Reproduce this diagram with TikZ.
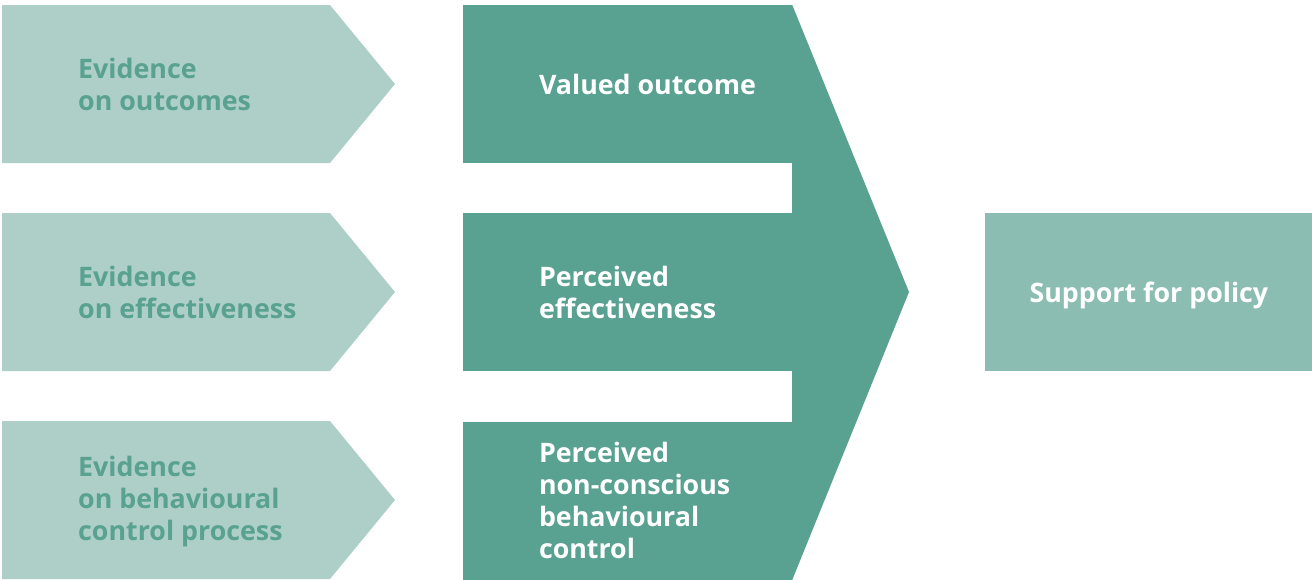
\documentclass[tikz,border=0pt]{standalone}
\usepackage{fontspec}
\setmainfont{Open Sans}
\usepackage{tikz}
\usetikzlibrary{positioning}
\definecolor{paleteal}{rgb}{0.68,0.81,0.78}
\definecolor{deepteal}{rgb}{0.35,0.63,0.57}
\definecolor{softteal}{rgb}{0.55,0.74,0.70}
\tikzset{
  texto/.style={
    anchor=west,
    align=left,
    inner sep=0pt,
    font=\fontsize{26.8}{32}\selectfont\bfseries
  },
  evidencia/.style={
    texto,
    text=deepteal
  },
  percibido/.style={
    texto,
    text=white
  },
  bloque/.style={
    fill=deepteal,
    minimum width=329pt,
    minimum height=158pt,
    inner sep=0pt
  },
  apoyo/.style={
    fill=softteal,
    text=white,
    minimum width=327pt,
    minimum height=158pt,
    inner sep=0pt,
    text depth=0pt,
    font=\fontsize{26.8}{32}\selectfont\bfseries
  }
}

\begin{document}
\begin{tikzpicture}[x=1pt,y=-1pt]
\useasboundingbox (0,0) rectangle (1312,579);
% evidence arrows on the left
\fill[paleteal] (2,5) -- (330,5) -- (395,84) -- (330,163) -- (2,163) -- cycle;
\fill[paleteal] (2,213) -- (330,213) -- (395,292) -- (330,371) -- (2,371) -- cycle;
\fill[paleteal] (2,421) -- (330,421) -- (395,500) -- (330,579) -- (2,579) -- cycle;
\node[evidencia] (e1) at (78,84) {Evidence\\on outcomes};
\node[evidencia] (e2) at (78,292) {Evidence\\on effectiveness};
\node[evidencia] (e3) at (78,502) {Evidence\\on behavioural\\control process};
% perceptions, joined into one big arrow
\node[bloque] (b1) at (627.5,84) {};
\node[bloque, below=50pt of b1] (b2) {};
\node[bloque, below=50pt of b2] (b3) {};
\coordinate (punta) at (909,292);
\fill[deepteal] (b1.north east) -- (punta) -- (b3.south east) -- cycle;
\node[percibido, right=76pt of b1.west] (p1) {Valued outcome};
\node[percibido, right=76pt of b2.west] (p2) {Perceived\\effectiveness};
\node[percibido, right=76pt of b3.west] (p3) {Perceived\\non-conscious\\behavioural\\control};
% outcome
\node[apoyo, right=193pt of b2] (s) {Support for policy};
\end{tikzpicture}
\end{document}
